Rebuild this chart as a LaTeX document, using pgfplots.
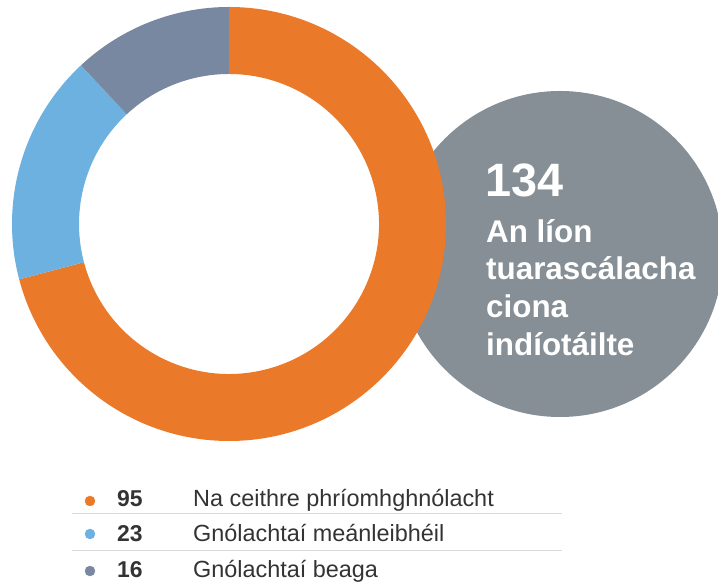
\documentclass[border=0pt]{standalone}
\usepackage{pgfplots}
\pgfplotsset{compat=1.18}
\usepackage{fontspec}
\setmainfont{Liberation Sans}
\definecolor{cO}{HTML}{EA7929}
\definecolor{cB}{HTML}{6CB1DF}
\definecolor{cS}{HTML}{7888A0}
\definecolor{cG}{HTML}{868F95}
\definecolor{cT}{HTML}{333333}
\definecolor{cL}{HTML}{DADADA}
% data: 95, 23, 16 (total 134)
\pgfmathsetmacro\aA{90}
\pgfmathsetmacro\aB{90-95/134*360}
\pgfmathsetmacro\aC{\aB-23/134*360}
\pgfmathsetmacro\aD{\aC-16/134*360}
\begin{document}
\begin{tikzpicture}
\begin{axis}[x=1bp,y=1bp,xmin=0,xmax=718,ymin=0,ymax=587,
  hide axis, enlargelimits=false, clip=true]
\path (axis cs:0,0) rectangle (axis cs:718,587);
\fill[cG] (axis cs:560,333) circle[radius=163bp];
\fill[cO] (axis cs:229,363) ++(\aA:217bp) arc[start angle=\aA,end angle=\aB,radius=217bp] -- ++(\aB:-67bp) arc[start angle=\aB,end angle=\aA,radius=150bp] -- cycle;
\fill[cB] (axis cs:229,363) ++(\aB:217bp) arc[start angle=\aB,end angle=\aC,radius=217bp] -- ++(\aC:-67bp) arc[start angle=\aC,end angle=\aB,radius=150bp] -- cycle;
\fill[cS] (axis cs:229,363) ++(\aC:217bp) arc[start angle=\aC,end angle=\aD,radius=217bp] -- ++(\aD:-67bp) arc[start angle=\aD,end angle=\aC,radius=150bp] -- cycle;
\node[anchor=base west,inner sep=0pt,text=white,font=\fontsize{47}{50}\selectfont\bfseries] at (axis cs:485,390) {134};
\node[anchor=base west,inner sep=0pt,text=white,font=\fontsize{31.5}{36}\selectfont\bfseries] at (axis cs:486,344) {An líon};
\node[anchor=base west,inner sep=0pt,text=white,font=\fontsize{31.5}{36}\selectfont\bfseries] at (axis cs:486,307) {tuarascálacha};
\node[anchor=base west,inner sep=0pt,text=white,font=\fontsize{31.5}{36}\selectfont\bfseries] at (axis cs:486,269) {ciona};
\node[anchor=base west,inner sep=0pt,text=white,font=\fontsize{31.5}{36}\selectfont\bfseries] at (axis cs:486,231) {indíotáilte};
\addplot[only marks,mark=*,mark size=5bp,color=cO] coordinates {(90,86)};
\addplot[only marks,mark=*,mark size=5bp,color=cB] coordinates {(90,53)};
\addplot[only marks,mark=*,mark size=5bp,color=cS] coordinates {(90,16)};
\draw[cL,line width=1bp] (axis cs:72,73) -- (axis cs:562,73);
\draw[cL,line width=1bp] (axis cs:72,36) -- (axis cs:562,36);
\node[anchor=base west,inner sep=0pt,text=cT,font=\fontsize{23}{25}\selectfont\bfseries] at (axis cs:117,80) {95};
\node[anchor=base west,inner sep=0pt,text=cT,font=\fontsize{23}{25}\selectfont\bfseries] at (axis cs:117,45) {23};
\node[anchor=base west,inner sep=0pt,text=cT,font=\fontsize{23}{25}\selectfont\bfseries] at (axis cs:117,9) {16};
\node[anchor=base west,inner sep=0pt,text=cT,font=\fontsize{23.5}{25}\selectfont] at (axis cs:193,80) {Na ceithre phríomhghnólacht};
\node[anchor=base west,inner sep=0pt,text=cT,font=\fontsize{23.5}{25}\selectfont] at (axis cs:193,45) {Gnólachtaí meánleibhéil};
\node[anchor=base west,inner sep=0pt,text=cT,font=\fontsize{23.5}{25}\selectfont] at (axis cs:193,9) {Gnólachtaí beaga};
\end{axis}
\end{tikzpicture}
\end{document}
